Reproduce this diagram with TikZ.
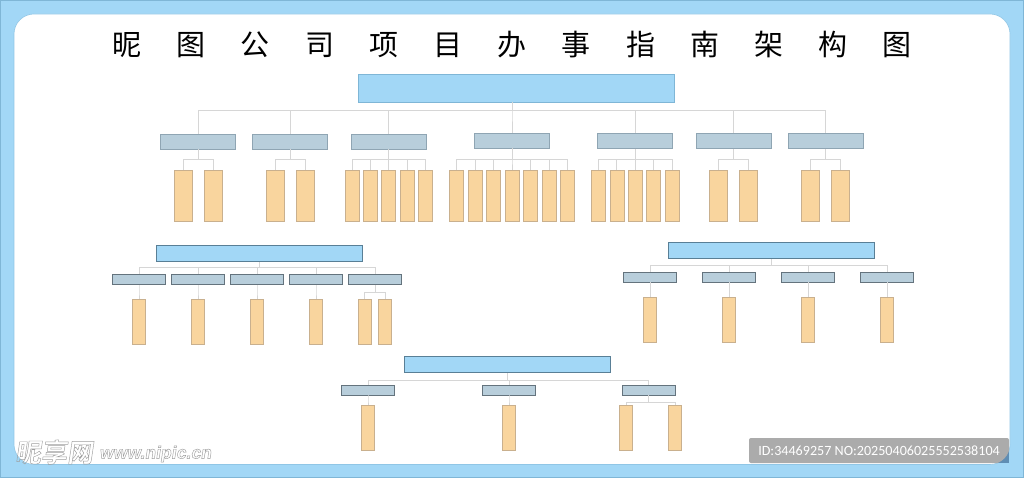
\documentclass[tikz,border=0pt]{standalone}
\usepackage{fontspec}
\setmainfont{Carlito}
\newfontfamily\cjk{Noto Sans CJK SC}
\newfontfamily\cjkbold{Noto Sans CJK SC Bold}
\newfontfamily\latinbold{Liberation Sans Bold}
\usetikzlibrary{positioning}
\definecolor{skyfill}{HTML}{A2D7F6}
\definecolor{skyline}{HTML}{7FB6D6}
\definecolor{greyfill}{HTML}{B8CEDB}
\definecolor{greyline}{HTML}{8FA5B3}
\definecolor{sandfill}{HTML}{F9D59E}
\definecolor{sandline}{HTML}{C9B08E}
\definecolor{linkline}{HTML}{D6D6D6}
\definecolor{stampfill}{HTML}{ABABAB}
\definecolor{stampcorner}{HTML}{5F8DB3}
\newcommand{\outlined}[1]{\special{pdf:code 1 Tr 0.45 w}#1\special{pdf:code 0 Tr 1 w}}
\tikzset{
  box/.style={rectangle,inner sep=0pt,line width=0.8pt},
  headbox/.style={box,fill=skyfill,draw=skyline!70!black,minimum width=206pt,minimum height=16.5pt},
  rootbox/.style={box,fill=skyfill,draw=skyline,minimum width=316.5pt,minimum height=28pt},
  deptbox/.style={box,fill=greyfill,draw=greyline,minimum width=75pt,minimum height=15pt},
  teambox/.style={box,fill=greyfill,draw=greyline!70!black,minimum width=53.5pt,minimum height=10pt},
  wideleaf/.style={box,fill=sandfill,draw=sandline,minimum width=18.5pt,minimum height=51.5pt},
  thinleaf/.style={box,fill=sandfill,draw=sandline,minimum width=14pt,minimum height=51.5pt},
  lowleaf/.style={box,fill=sandfill,draw=sandline,minimum width=13pt,minimum height=45.5pt},
  tree/.style={to path={(\tikztostart.south) -- (\tikztostart.south |- 0,#1) -| (\tikztotarget.north)}},
  roottree/.style={to path={(\tikztostart.south -| d4.north) -- (d4.north |- 0,#1) -| (\tikztotarget.north)}},
  link/.style={draw=linkline,line width=0.9pt},
}
\begin{document}
\begin{tikzpicture}[x=1pt,y=-1pt]
    \useasboundingbox (0,0) rectangle (1024,478);
    \path[fill=skyfill,draw=skyline,line width=1pt] (0.5,0.5) rectangle (1023.5,477.5);
    \path[fill=white,draw=skyline!50!skyfill,line width=0.6pt,rounded corners=20pt] (14,14) rectangle (1010,464.5);
    % title
    \node[font=\cjk\fontsize{29}{29}\selectfont](title) at (512.2,44.4)
    {昵\hspace{35.2pt}图\hspace{35.2pt}公\hspace{35.2pt}司\hspace{35.2pt}项\hspace{35.2pt}目\hspace{35.2pt}办\hspace{35.2pt}事\hspace{35.2pt}指\hspace{35.2pt}南\hspace{35.2pt}架\hspace{35.2pt}构\hspace{35.2pt}图};
    \node[rootbox](root) at (516.5,88) {};
    % first row
    \node[deptbox](d1) at (198,141.5) {};
    \node[deptbox](d2) at (290,141.5) {};
    \node[deptbox](d3) at (388.7,141.5) {};
    \node[deptbox](d4) at (512,140.5) {};
    \node[deptbox](d5) at (635,141) {};
    \node[deptbox](d6) at (733.5,141) {};
    \node[deptbox](d7) at (825.5,141) {};
    \node[wideleaf](a1) at (183.5,196) {};
    \node[wideleaf](a2) [right of=a1, node distance=29.7pt] {};
    \node[wideleaf](b1) at (275.5,196) {};
    \node[wideleaf](b2) [right of=b1, node distance=29.7pt] {};
    \node[thinleaf](c1) at (352,196) {};
    \node[thinleaf](c2) [right of=c1, node distance=18.4pt] {};
    \node[thinleaf](c3) [right of=c2, node distance=18.4pt] {};
    \node[thinleaf](c4) [right of=c3, node distance=18.4pt] {};
    \node[thinleaf](c5) [right of=c4, node distance=18.4pt] {};
    \node[thinleaf](e1) at (456.5,196) {};
    \node[thinleaf](e2) [right of=e1, node distance=18.5pt] {};
    \node[thinleaf](e3) [right of=e2, node distance=18.5pt] {};
    \node[thinleaf](e4) [right of=e3, node distance=18.5pt] {};
    \node[thinleaf](e5) [right of=e4, node distance=18.5pt] {};
    \node[thinleaf](e6) [right of=e5, node distance=18.5pt] {};
    \node[thinleaf](e7) [right of=e6, node distance=18.5pt] {};
    \node[thinleaf](f1) at (598.5,196) {};
    \node[thinleaf](f2) [right of=f1, node distance=18.4pt] {};
    \node[thinleaf](f3) [right of=f2, node distance=18.4pt] {};
    \node[thinleaf](f4) [right of=f3, node distance=18.4pt] {};
    \node[thinleaf](f5) [right of=f4, node distance=18.4pt] {};
    \node[wideleaf](g1) at (718.5,196) {};
    \node[wideleaf](g2) [right of=g1, node distance=29.7pt] {};
    \node[wideleaf](h1) at (810.5,196) {};
    \node[wideleaf](h2) [right of=h1, node distance=29.7pt] {};
    % left block
    \node[headbox](lefthead) at (259.5,253.5) {};
    \node[teambox](p1) at (139,279.7) {};
    \node[teambox](p2) [right of=p1, node distance=59pt] {};
    \node[teambox](p3) [right of=p2, node distance=59pt] {};
    \node[teambox](p4) [right of=p3, node distance=59pt] {};
    \node[teambox](p5) [right of=p4, node distance=59pt] {};
    \node[lowleaf](q1) at (139,322) {};
    \node[lowleaf](q2) [right of=q1, node distance=59pt] {};
    \node[lowleaf](q3) [right of=q2, node distance=59pt] {};
    \node[lowleaf](q4) [right of=q3, node distance=59pt] {};
    \node[lowleaf](q5) at (364.8,322) {};
    \node[lowleaf](q6) [right of=q5, node distance=20.2pt] {};
    % right block
    \node[headbox](righthead) at (771,250.5) {};
    \node[teambox](r1) at (650,277) {};
    \node[teambox](r2) [right of=r1, node distance=79pt] {};
    \node[teambox](r3) [right of=r2, node distance=79pt] {};
    \node[teambox](r4) [right of=r3, node distance=79pt] {};
    \node[lowleaf](s1) at (650,320) {};
    \node[lowleaf](s2) [right of=s1, node distance=79pt] {};
    \node[lowleaf](s3) [right of=s2, node distance=79pt] {};
    \node[lowleaf](s4) [right of=s3, node distance=79pt] {};
    % bottom block
    \node[headbox](lowhead) at (507,364.5) {};
    \node[teambox](t1) at (368,390) {};
    \node[teambox](t2) at (509,390) {};
    \node[teambox](t3) at (648.7,390) {};
    \node[lowleaf](u1) at (368,428) {};
    \node[lowleaf](u2) at (509,428) {};
    \node[lowleaf](u3) at (626,428) {};
    \node[lowleaf](u4) at (675,428) {};
    \path[link]
    (root) edge [roottree=110.7] (d1)
    (root) edge [roottree=110.7] (d2)
    (root) edge [roottree=110.7] (d3)
    (root) edge [roottree=110.7] (d4)
    (root) edge [roottree=110.7] (d5)
    (root) edge [roottree=110.7] (d6)
    (root) edge [roottree=110.7] (d7)
    (d1) edge [tree=159.3] (a1)
    (d1) edge [tree=159.3] (a2)
    (d2) edge [tree=159.3] (b1)
    (d2) edge [tree=159.3] (b2)
    (d3) edge [tree=159.3] (c1)
    (d3) edge [tree=159.3] (c2)
    (d3) edge [tree=159.3] (c3)
    (d3) edge [tree=159.3] (c4)
    (d3) edge [tree=159.3] (c5)
    (d4) edge [tree=159.3] (e1)
    (d4) edge [tree=159.3] (e2)
    (d4) edge [tree=159.3] (e3)
    (d4) edge [tree=159.3] (e4)
    (d4) edge [tree=159.3] (e5)
    (d4) edge [tree=159.3] (e6)
    (d4) edge [tree=159.3] (e7)
    (d5) edge [tree=159.3] (f1)
    (d5) edge [tree=159.3] (f2)
    (d5) edge [tree=159.3] (f3)
    (d5) edge [tree=159.3] (f4)
    (d5) edge [tree=159.3] (f5)
    (d6) edge [tree=159.3] (g1)
    (d6) edge [tree=159.3] (g2)
    (d7) edge [tree=159.3] (h1)
    (d7) edge [tree=159.3] (h2)
    (lefthead) edge [tree=267.3] (p1)
    (lefthead) edge [tree=267.3] (p2)
    (lefthead) edge [tree=267.3] (p3)
    (lefthead) edge [tree=267.3] (p4)
    (lefthead) edge [tree=267.3] (p5)
    (p1) edge [tree=292.5] (q1)
    (p2) edge [tree=292.5] (q2)
    (p3) edge [tree=292.5] (q3)
    (p4) edge [tree=292.5] (q4)
    (p5) edge [tree=292.5] (q5)
    (p5) edge [tree=292.5] (q6)
    (righthead) edge [tree=265] (r1)
    (righthead) edge [tree=265] (r2)
    (righthead) edge [tree=265] (r3)
    (righthead) edge [tree=265] (r4)
    (r1) edge [tree=290] (s1)
    (r2) edge [tree=290] (s2)
    (r3) edge [tree=290] (s3)
    (r4) edge [tree=290] (s4)
    (lowhead) edge [tree=380] (t1)
    (lowhead) edge [tree=380] (t2)
    (lowhead) edge [tree=380] (t3)
    (t1) edge [tree=401] (u1)
    (t2) edge [tree=401] (u2)
    (t3) edge [tree=402] (u3)
    (t3) edge [tree=402] (u4)
    ;
    % marks in the corners
    \node[font=\cjkbold\fontsize{26}{26}\selectfont,text=black!38,transform shape,xslant=0.15,inner sep=0pt](mark) at (55.5,452) {\outlined{昵享网}};
    \node[font=\latinbold\fontsize{17.6}{18}\selectfont,text=black!38,transform shape,xslant=0.15,inner sep=0pt](site) at (156,454) {\outlined{www.nipic.cn}};
    \path[fill=stampcorner] (990,445) rectangle (1009,463);
    \begin{scope}
    \clip[rounded corners=20pt] (14,14) rectangle (1010,464.5);
    \node[fill=stampfill,text=white,rounded corners=2pt,inner sep=0pt,minimum width=260pt,minimum height=25pt,font=\fontsize{14.1}{15}\selectfont](stamp) at (879,450.5) {ID:34469257 NO:20250406025552538104};
    \end{scope}
\end{tikzpicture}
\end{document}
